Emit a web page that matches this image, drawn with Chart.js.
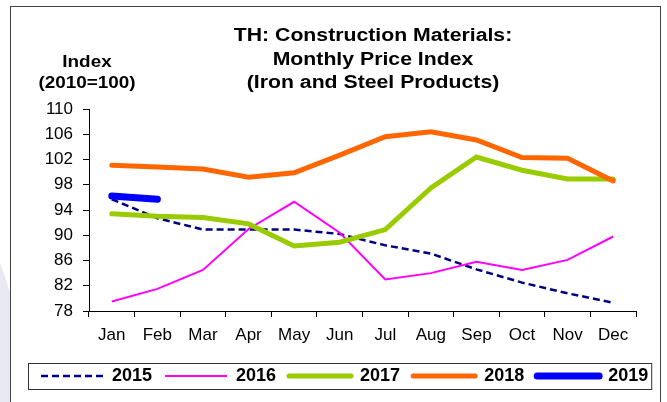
<!DOCTYPE html>
<html>
<head>
<meta charset="utf-8">
<script src="https://cdn.jsdelivr.net/npm/chart.js@4.4.0/dist/chart.umd.min.js"></script>
<style>
    body { margin: 0; background: #fff; }
    #wrap { position: relative; width: 667px; height: 402px; overflow: hidden; }
    #strip {
        position: absolute; left: 0; top: 262px; width: 10px; height: 140px;
        background: #e9e9f4;
        clip-path: polygon(0 0, 100% 30px, 100% 100%, 0 100%);
    }
    #frame {
        position: absolute; left: 10px; top: 6px; width: 649px; height: 410px;
        border: 1px solid #444; background: #fff;
    }
    #chart { position: absolute; left: 0; top: 0; }
</style>
</head>
<body>
<div id="wrap">
    <div id="strip"></div>
    <div id="frame"></div>
    <canvas id="chart" width="667" height="402"></canvas>
</div>
<script>
// Thailand construction materials, iron & steel price index (2010=100)
const months = ['Jan', 'Feb', 'Mar', 'Apr', 'May', 'Jun', 'Jul', 'Aug', 'Sep', 'Oct', 'Nov', 'Dec'];

const idx2015 = [95.7, 92.7, 90.9, 90.9, 90.9, 90.2, 88.4, 87.1, 84.6, 82.5, 80.8, 79.3];
const idx2016 = [79.5, 81.5, 84.5, 91.0, 95.3, 90.4, 83.0, 84.0, 85.8, 84.5, 86.1, 89.8];
const idx2017 = [93.4, 93.0, 92.8, 91.8, 88.3, 88.9, 90.9, 97.5, 102.4, 100.3, 98.9, 98.9];
const idx2018 = [101.1, 100.8, 100.5, 99.2, 99.9, 102.7, 105.6, 106.4, 105.1, 102.3, 102.2, 98.6];
const idx2019 = [96.2, 95.7];

const yMin = 78;
const yMax = 110;
const yStep = 4;

const titleLines = ['TH: Construction Materials:', 'Monthly Price Index', '(Iron and Steel Products)'];
const unitLines = ['Index', '(2010=100)'];

const FONT = '"Liberation Sans", Arial, sans-serif';

// title + unit label, Arial looks a bit stretched in the original so widen it
const headerPlugin = {
    id: 'header',
    afterDraw(chart) {
        const ctx = chart.ctx;
        const drawWide = (txt, x, y) => {
            ctx.save();
            ctx.translate(x, y);
            ctx.scale(1.18, 1);
            ctx.fillText(txt, 0, 0);
            ctx.restore();
        };
        ctx.save();
        ctx.fillStyle = '#000';
        ctx.textAlign = 'center';
        ctx.textBaseline = 'alphabetic';
        ctx.font = 'bold 18px ' + FONT;
        titleLines.forEach((t, i) => drawWide(t, 373, 41 + i * 23.7));
        ctx.font = 'bold 16px ' + FONT;
        unitLines.forEach((t, i) => drawWide(t, 87, 67 + i * 21));
        ctx.restore();
    }
};

// box around the legend row
const legendBoxPlugin = {
    id: 'legendBox',
    afterDraw(chart) {
        const lg = chart.legend;
        if (!lg || !lg.legendHitBoxes.length) return;
        const boxes = lg.legendHitBoxes;
        const last = boxes[boxes.length - 1];
        const cy = boxes[0].top + boxes[0].height / 2;
        const ctx = chart.ctx;
        ctx.save();
        ctx.strokeStyle = '#333';
        ctx.lineWidth = 1;
        ctx.strokeRect(lg.left + 0.5, Math.round(cy - 13) + 0.5, last.left + last.width + 3 - lg.left, 26);
        ctx.restore();
    }
};

new Chart(document.getElementById('chart'), {
    type: 'line',
    data: {
        labels: months,
        datasets: [{
            label: '2015',
            data: idx2015,
            borderColor: '#000080',
            borderWidth: 2.5,
            borderDash: [7, 4],
            order: 5
        }, {
            label: '2016',
            data: idx2016,
            borderColor: '#ff00ff',
            borderWidth: 2,
            order: 4
        }, {
            label: '2017',
            data: idx2017,
            borderColor: '#99cc00',
            borderWidth: 5,
            borderCapStyle: 'round',
            order: 3
        }, {
            label: '2018',
            data: idx2018,
            borderColor: '#ff6600',
            borderWidth: 5,
            borderCapStyle: 'round',
            order: 2
        }, {
            label: '2019',
            data: idx2019,
            borderColor: '#0000ff',
            borderWidth: 7,
            borderCapStyle: 'round',
            order: 1
        }]
    },
    options: {
        responsive: false,
        animation: false,
        events: [],
        layout: {
            padding: { left: 28, right: 0, top: 109, bottom: 7 }
        },
        elements: {
            point: { radius: 0 },
            line: { tension: 0, fill: false }
        },
        plugins: {
            title: { display: false },
            tooltip: { enabled: false },
            legend: {
                position: 'bottom',
                align: 'start',
                labels: {
                    usePointStyle: true,
                    pointStyle: 'line',
                    pointStyleWidth: 62,
                    padding: 13,
                    color: '#000',
                    font: { family: FONT, size: 18, weight: 'bold' },
                    sort: (a, b) => a.datasetIndex - b.datasetIndex,
                    // point-style items lose the dash, copy line style from the dataset
                    generateLabels(chart) {
                        const items = Chart.defaults.plugins.legend.labels.generateLabels(chart);
                        items.forEach(it => {
                            const ds = chart.data.datasets[it.datasetIndex];
                            it.lineDash = ds.borderDash || [];
                            it.lineWidth = ds.borderWidth;
                            it.lineCap = ds.borderCapStyle || 'butt';
                        });
                        return items;
                    }
                }
            }
        },
        scales: {
            x: {
                offset: true,
                grid: {
                    offset: true,
                    drawOnChartArea: false,
                    color: '#000',
                    tickLength: 6
                },
                border: { color: '#000', width: 1 },
                ticks: {
                    color: '#000',
                    padding: 8,
                    maxRotation: 0,
                    font: { family: FONT, size: 17 }
                },
                afterFit(scale) {
                    scale.height = 43;
                    scale.paddingLeft = 0;
                    scale.paddingRight = 31;
                }
            },
            y: {
                min: yMin,
                max: yMax,
                grid: {
                    drawOnChartArea: false,
                    color: '#000',
                    tickLength: 6
                },
                border: { color: '#000', width: 1 },
                ticks: {
                    stepSize: yStep,
                    color: '#000',
                    padding: 10,
                    font: { family: FONT, size: 17 }
                },
                afterFit(scale) {
                    scale.width = 61;
                }
            }
        }
    },
    plugins: [headerPlugin, legendBoxPlugin]
});
</script>
</body>
</html>
